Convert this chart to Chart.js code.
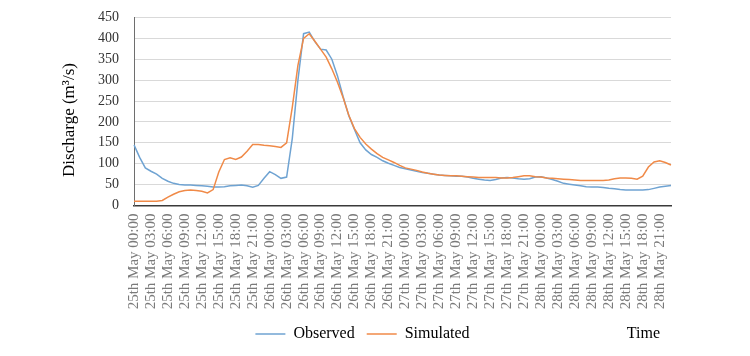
<!DOCTYPE html>
<html>
<head>
<meta charset="utf-8">
<script src="https://cdn.jsdelivr.net/npm/chart.js@4.4.1/dist/chart.umd.min.js"></script>
<style>
html,body{margin:0;padding:0;background:#fff;}
#wrap{width:750px;height:356px;position:relative;}
</style>
</head>
<body>
<div id="wrap"><canvas id="c" width="750" height="356"></canvas></div>
<script>
// Categories: hourly time steps, labelled every 3 hours on the axis
const days = ['25th', '26th', '27th', '28th'];
const hours = ['00','01','02','03','04','05','06','07','08','09','10','11','12','13','14','15','16','17','18','19','20','21','22','23'];
const categories = [];
days.forEach(d => hours.forEach(h => categories.push(d + ' May ' + h + ':00')));

// Observed discharge (m3/s), hourly
const observed = [
  145,115,90,82,75,65,58,53,50,49,49,48,
  47,46,44,44,45,47,48,49,47,44,48,65,
  81,74,65,68,160,300,411,415,392,374,372,350,
  310,260,215,182,150,133,122,115,107,101,96,91,
  88,85,82,79,77,75,73,72,71,70,70,68,
  65,63,61,60,62,66,67,66,64,63,64,68,
  69,66,62,58,53,51,49,47,45,44,44,43,
  41,40,38,37,37,37,37,38,41,44,46,48
];
// Simulated discharge (m3/s), hourly
const simulated = [
  10,10,10,10,10,12,20,27,33,36,37,36,
  34,30,38,80,110,114,110,116,130,146,146,144,
  143,141,139,150,235,335,400,411,393,374,355,327,
  295,258,216,184,163,147,135,124,115,109,103,96,
  90,87,84,80,77,75,73,72,71,71,70,69,
  68,67,67,67,67,66,66,67,69,71,71,69,
  68,66,65,64,63,62,61,60,60,60,60,60,
  61,64,66,66,65,63,70,92,104,107,103,97
];
const yTicks = [0,50,100,150,200,250,300,350,400,450];
const seriesNames = ['Observed', 'Simulated'];
const yTitle = 'Discharge (m³/s)';
const xTitle = 'Time';

const serif = "'Liberation Serif', 'Times New Roman', serif";

const titlesPlugin = {
  id: 'titles',
  afterDraw(chart) {
    const ctx = chart.ctx;
    ctx.save();
    ctx.fillStyle = '#000';
    ctx.font = '17px ' + serif;
    ctx.textAlign = 'center';
    ctx.textBaseline = 'middle';
    ctx.translate(70, 120);
    ctx.rotate(-Math.PI / 2);
    ctx.fillText(yTitle, 0, 0);
    ctx.restore();
    ctx.save();
    ctx.fillStyle = '#000';
    ctx.font = '16px ' + serif;
    ctx.textAlign = 'right';
    ctx.textBaseline = 'middle';
    ctx.fillText(xTitle, 660, 334);
    ctx.restore();
  }
};

new Chart(document.getElementById('c'), {
  type: 'line',
  data: {
    labels: categories,
    datasets: [
      { label: seriesNames[0], data: observed, borderColor: '#6fa3d2', backgroundColor: '#6fa3d2',
        borderWidth: 1.5, pointRadius: 0, tension: 0, order: 1 },
      { label: seriesNames[1], data: simulated, borderColor: '#f08a48', backgroundColor: '#f08a48',
        borderWidth: 1.5, pointRadius: 0, tension: 0, order: 0 }
    ]
  },
  options: {
    responsive: false,
    animation: false,
    devicePixelRatio: 1,
    layout: { padding: { left: 54, right: 79, top: 9, bottom: 4 } },
    plugins: {
      tooltip: { enabled: false },
      legend: {
        position: 'bottom',
        labels: {
          font: { family: serif, size: 16 },
          color: '#000',
          usePointStyle: true,
          pointStyle: 'line',
          pointStyleWidth: 30,
          padding: 12,
          sort: (a, b) => a.datasetIndex - b.datasetIndex
        }
      }
    },
    scales: {
      x: {
        type: 'category',
        offset: false,
        grid: { display: false, drawTicks: false },
        border: { display: true, color: '#3a3a3a', width: 1.5 },
        ticks: {
          autoSkip: false,
          maxRotation: 90,
          minRotation: 90,
          padding: 8,
          color: '#7a7a7a',
          font: { family: serif, size: 15 },
          callback: (v, i) => (i % 3 === 0 ? categories[i] : '')
        },
        afterFit: (s) => { s.height = 108.5; }
      },
      y: {
        min: 0,
        max: 450,
        afterBuildTicks: (s) => { s.ticks = yTicks.map(v => ({ value: v })); },
        grid: { color: '#d9d9d9', lineWidth: 1, drawTicks: true, tickLength: 6, tickColor: 'rgba(0,0,0,0)' },
        border: { display: true, color: '#6e6e6e', width: 1 },
        ticks: {
          padding: 9,
          color: '#333',
          font: { family: serif, size: 14 }
        },
        afterFit: (s) => { s.width = 80; }
      }
    }
  },
  plugins: [titlesPlugin]
});
</script>
</body>
</html>
